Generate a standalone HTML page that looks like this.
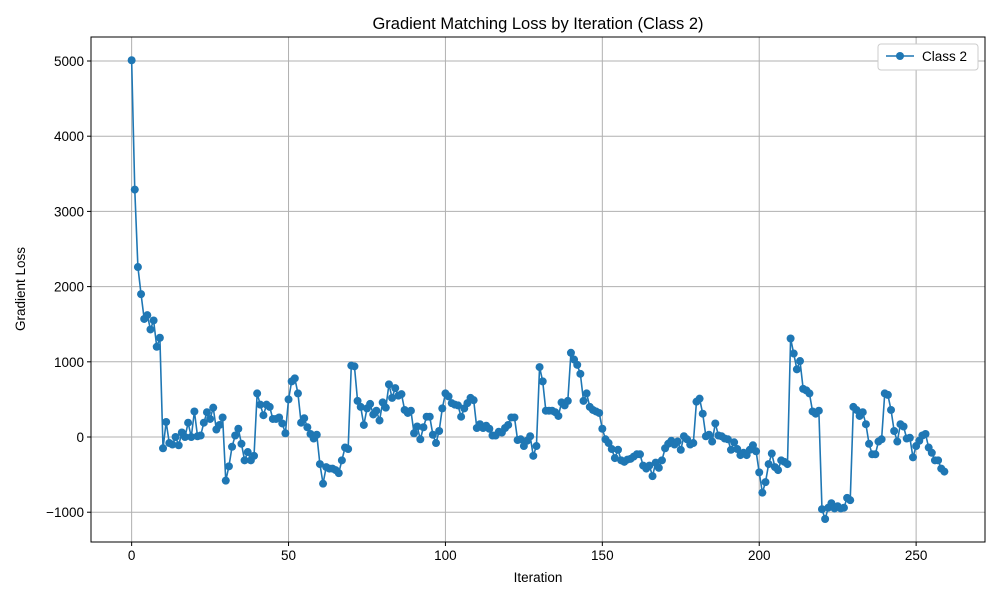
<!DOCTYPE html>
<html><head><meta charset="utf-8"><style>
body{margin:0;background:#fff;font-family:"Liberation Sans",sans-serif}
svg text{font-family:"Liberation Sans",sans-serif;fill:#000}
</style></head><body>
<svg id="chart" width="1000" height="600">
<rect x="0" y="0" width="1000" height="600" fill="#fff"/>
<text x="538" y="29" font-size="16.5" text-anchor="middle">Gradient Matching Loss by Iteration (Class 2)</text>
<g id="grid"></g>
<g id="ticks"></g>
<path id="line" fill="none" stroke="#1f77b4" stroke-width="1.6"/>
<g id="pts"></g>
<rect x="91" y="37" width="894" height="505" fill="none" stroke="#000" stroke-width="1"/>
<text x="538" y="582" font-size="13.5" text-anchor="middle">Iteration</text>
<text x="0" y="0" font-size="13.5" text-anchor="middle" transform="translate(25,289) rotate(-90)">Gradient Loss</text>
<g>
<rect x="878" y="44" width="100" height="26" fill="#fff" stroke="#ccc" rx="3"/>
<line x1="886" y1="56" x2="914" y2="56" stroke="#1f77b4" stroke-width="1.6"/>
<circle cx="900" cy="56" r="4" fill="#1f77b4"/>
<text x="922" y="61" font-size="13.5">Class 2</text>
</g>
</svg>
<script>
const values = [5010,3290,2260,1900,1570,1620,1430,1550,1200,1320,
-150,200,-80,-100,0,-110,60,0,190,0,
340,10,20,190,330,240,390,100,160,260,
-580,-390,-130,20,110,-90,-310,-200,-310,-250,
580,430,290,430,400,240,240,260,180,50,
500,740,780,580,190,250,130,40,-20,30,
-360,-620,-400,-420,-420,-440,-480,-310,-140,-160,
950,940,480,400,160,380,440,300,350,220,
460,390,700,520,650,550,570,360,320,350,
50,140,-30,130,270,270,30,-80,80,380,
580,540,450,430,420,270,380,450,520,490,
120,170,120,150,110,20,20,70,60,120,
160,260,260,-40,-30,-120,-50,10,-250,-120,
930,740,350,350,350,330,280,460,420,480,
1120,1030,960,840,480,580,400,360,340,320,
110,-30,-80,-160,-280,-170,-310,-330,-300,-290,
-260,-230,-230,-380,-420,-380,-520,-340,-410,-310,
-150,-90,-50,-100,-60,-170,10,-30,-100,-80,
470,510,310,10,30,-60,180,20,10,-20,
-30,-170,-70,-160,-240,-210,-240,-170,-110,-190,
-470,-740,-600,-360,-220,-400,-440,-310,-330,-360,
1310,1110,900,1010,640,620,580,340,310,350,
-960,-1090,-940,-880,-950,-920,-950,-940,-810,-840,
400,360,280,330,170,-90,-230,-230,-60,-30,
580,560,360,80,-60,170,140,-20,-10,-270,
-120,-50,20,40,-140,-210,-310,-310,-420,-460];
const xTicks = [0,50,100,150,200,250];
const yTicks = [-1000,0,1000,2000,3000,4000,5000];
const X0=91,X1=985,Y0=37,Y1=542;
const xmin=-12.95,xmax=271.95,ymin=-1396,ymax=5319;
function sx(v){return X0+(v-xmin)/(xmax-xmin)*(X1-X0);}
function sy(v){return Y1-(v-ymin)/(ymax-ymin)*(Y1-Y0);}
const NS="http://www.w3.org/2000/svg";
const grid=document.getElementById('grid'),ticks=document.getElementById('ticks');
function mk(tag,attrs,parent){const e=document.createElementNS(NS,tag);for(const k in attrs)e.setAttribute(k,attrs[k]);parent.appendChild(e);return e;}
xTicks.forEach(t=>{const x=sx(t);
 const g=mk('line',{x1:x,x2:x,y1:Y0,y2:Y1,stroke:'#b0b0b0','stroke-width':1},grid);
 
 
 mk('line',{x1:x,x2:x,y1:Y1,y2:Y1+4,stroke:'#000'},ticks);
 const tx=mk('text',{x:x,y:Y1+18,'font-size':13.5,'text-anchor':'middle'},ticks);tx.textContent=t;
 
 
});
yTicks.forEach(t=>{const y=sy(t);
 const g=mk('line',{x1:X0,x2:X1,y1:y,y2:y,stroke:'#b0b0b0','stroke-width':1},grid);
 
 
 mk('line',{x1:X0-4,x2:X0,y1:y,y2:y,stroke:'#000'},ticks);
 const tx=mk('text',{x:X0-7,y:y+5,'font-size':13.5,'text-anchor':'end'},ticks);tx.textContent=t<0?'\u2212'+(-t):t;
 
 
});
let d='';values.forEach((v,i)=>{d+=(i?'L':'M')+sx(i).toFixed(2)+','+sy(v).toFixed(2);});
document.getElementById('line').setAttribute('d',d);
const pts=document.getElementById('pts');
values.forEach((v,i)=>{const c=mk('circle',{cx:sx(i),cy:sy(v),r:4,fill:'#1f77b4'},pts);
 
 
});
</script>
</body></html>
